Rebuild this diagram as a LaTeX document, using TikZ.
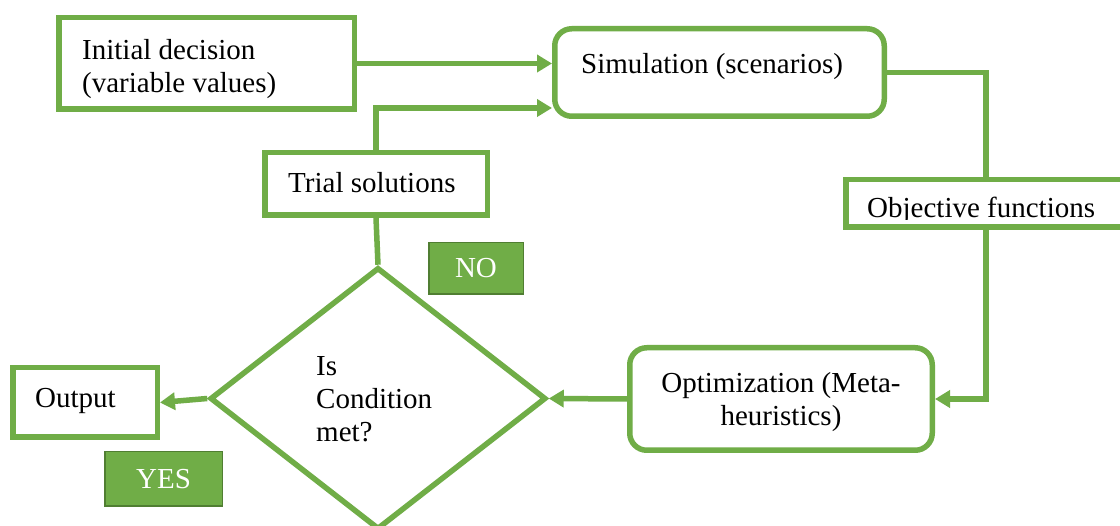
\documentclass[tikz,border=0pt]{standalone}
\usepackage{fontspec}
\setmainfont{Liberation Serif}
\usetikzlibrary{arrows.meta,shapes.geometric}
\definecolor{leaf}{HTML}{70AD47}
\definecolor{leafdark}{HTML}{507E32}

\begin{document}
\begin{tikzpicture}[x=1pt,y=-1pt,
  every node/.style={font=\fontsize{29}{33}\selectfont},
  box/.style={draw=leaf, line width=5.5pt, fill=white, inner sep=0pt},
  rbox/.style={box, rounded corners=17pt},
  tag/.style={draw=leafdark, line width=1.5pt, fill=leaf, text=white, inner sep=0pt},
  txt/.style={inner sep=0pt, align=left},
  link/.style={draw=leaf, line width=5.5pt},
  arr/.style={link, -{Triangle[length=15pt,width=17pt]}}]

\useasboundingbox (0,0) rectangle (1120,526);
\fill[white] (0,0) rectangle (1120,526);

% boxes
\node[box, minimum width=295.5pt, minimum height=91.5pt] (init) at (206.5,63.5) {};
\node[txt, anchor=west] (inittxt) at (82,69) {Initial decision\\(variable values)};

\node[rbox, minimum width=329.5pt, minimum height=87.5pt] (sim) at (719.5,72.5) {};
\node[txt, anchor=base west] (simtxt) at (581,74) {Simulation (scenarios)};

\node[box, minimum width=222.5pt, minimum height=62.5pt] (trial) at (376,184) {};
\node[txt, anchor=base west] (trialtxt) at (288,193) {Trial solutions};

\node[box, minimum width=280.5pt, minimum height=47.5pt] (obj) at (986,203.5) {};
\begin{scope}
  \clip (846,180) rectangle (1120,220);
  \node[txt, anchor=base west] (objtxt) at (867,218) {Objective functions};
\end{scope}

\node[tag, minimum width=94.5pt, minimum height=51.5pt] (no) at (476,268.5) {NO};

\node[box, diamond, minimum width=336pt, minimum height=262pt] (cond) at (378,398.5) {};
\node[txt, anchor=west] (condtxt) at (316,399) {Is\\Condition\\met?};

\node[box, minimum width=144.5pt, minimum height=69.5pt] (out) at (85,402.5) {};
\node[txt, anchor=base west] (outtxt) at (35,408) {Output};

\node[tag, minimum width=117.5pt, minimum height=54.5pt] (yes) at (163.5,479) {YES};

\node[rbox, minimum width=302.5pt, minimum height=102.5pt] (opt) at (781,399) {};
\node[inner sep=0pt, align=center] (opttxt) at (781,402)
  {Optimization (Meta-\\heuristics)};

% connectors
\draw[arr] (init.east) -- (init.east -| sim.west);
\draw[arr] (trial.north) |- ([yshift=11pt]sim.south west);
\draw[link] (sim.east) -| (obj.north);
\draw[arr] (obj.south) |- (opt.east);
\draw[arr] (opt.west) -- (cond.east);
\draw[link] (trial.south) -- (cond.north);
\draw[arr] (cond.west) -- (out.east);
\end{tikzpicture}
\end{document}
